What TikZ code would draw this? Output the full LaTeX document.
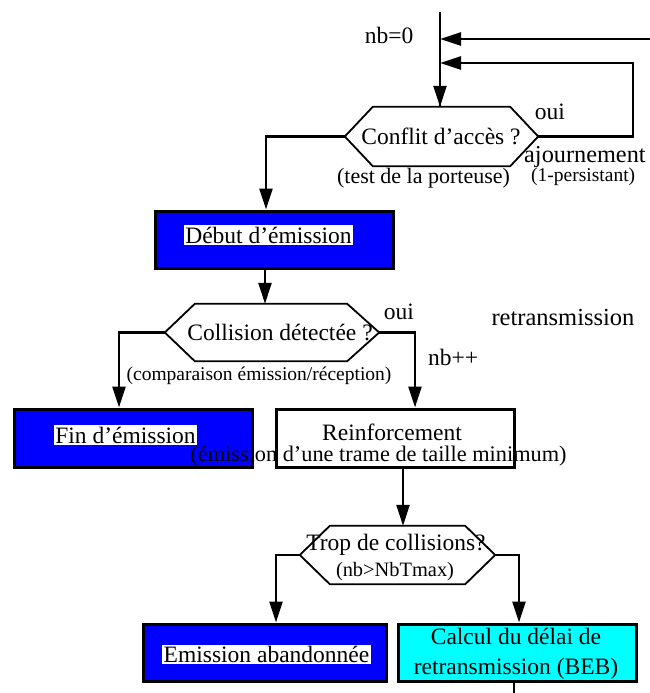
\documentclass[tikz,border=0pt]{standalone}
\usepackage{fontspec}
\setmainfont{Liberation Serif}
\usetikzlibrary{arrows.meta,calc}
\newcommand\mainsz{\fontsize{23.5}{30}\selectfont}
\newcommand\smallsz{\fontsize{19.5}{22}\selectfont}
\definecolor{fblue}{RGB}{0,0,255}
\definecolor{fcyan}{RGB}{0,255,255}
\tikzset{
  conn/.style={line width=2.5pt,-{Triangle[length=21pt,width=13pt]}},
  plainline/.style={line width=2.5pt},
  boxnode/.style={draw,line width=3pt,minimum width=238pt,minimum height=57pt,inner sep=0pt},
  hexframe/.style={draw=none,inner sep=0pt},
  hexline/.style={line width=1.8pt,line join=miter},
  lbl/.style={font=\mainsz,inner sep=0pt},
  smalllbl/.style={font=\smallsz,inner sep=0pt},
  whitebg/.style={fill=white,inner sep=1.5pt,font=\mainsz},
}
\begin{document}
\begin{tikzpicture}[x=1pt,y=-1pt]
\useasboundingbox (0,0) rectangle (650,693);

% hexagons (frames)
\node[hexframe,minimum width=193pt,minimum height=59pt] (h1) at (441.5,136.5) {};
\node[hexframe,minimum width=214pt,minimum height=57pt] (h2) at (272,332.5) {};
\node[hexframe,minimum width=195pt,minimum height=58pt] (h3) at (397.5,555) {};
\draw[hexline] (h1.west) -- ([xshift=28pt]h1.north west) -- ([xshift=-28pt]h1.north east) -- (h1.east) -- ([xshift=-28pt]h1.south east) -- ([xshift=28pt]h1.south west) -- cycle;
\draw[hexline] (h2.west) -- ([xshift=30pt]h2.north west) -- ([xshift=-32pt]h2.north east) -- (h2.east) -- ([xshift=-32pt]h2.south east) -- ([xshift=30pt]h2.south west) -- cycle;
\draw[hexline] (h3.west) -- ([xshift=30pt]h3.north west) -- ([xshift=-30pt]h3.north east) -- (h3.east) -- ([xshift=-30pt]h3.south east) -- ([xshift=30pt]h3.south west) -- cycle;

% boxes
\node[boxnode,fill=fblue] (debut) at (274,239.5) {};
\node[boxnode,fill=fblue,minimum height=58pt] (fin) at (133,438) {};
\node[boxnode,fill=white,minimum height=58pt] (reinf) at (395,438) {};
\node[boxnode,fill=fblue,minimum width=243pt] (aband) at (264.5,652.5) {};
\node[boxnode,fill=fcyan] (calc) at (517,652.5) {};

% free ends
\coordinate (topin) at (440,12);
\coordinate (r1) at (650,39);
\coordinate (j1) at (440,39);
\coordinate (j2) at (440,63);
\coordinate (c2) at (633,63);
\coordinate (bottomout) at (514,693);

% connectors
\draw[plainline] (topin) -- ([xshift=-1.5pt]h1.north);
\draw[conn] (j2) -- ([xshift=-1.5pt]h1.north);
\draw[conn] (r1) -- (j1);
\draw[conn] (h1.east) -| (c2) -- (j2);
\draw[conn] (h1.west) -| ([xshift=-8pt]debut.north);
\draw[conn] ([xshift=-9pt]debut.south) -- ([xshift=-7pt]h2.north);
\draw[conn] (h2.west) -| ([xshift=-14pt]fin.north);
\draw[conn] (h2.east) -| ([xshift=20pt]reinf.north);
\draw[conn] ([xshift=8pt]reinf.south) -- ([xshift=5.5pt]h3.north);
\draw[conn] (h3.west) -| ([xshift=11.5pt]aband.north);
\draw[conn] (h3.east) -| ([xshift=2pt]calc.north);
\draw[plainline] ([xshift=-3pt]calc.south) -- (bottomout);

% texts
\node[lbl] (tnb0) at (389,35) {nb=0};
\node[lbl] (th1) at (441,136) {Conflit d'accès ?};
\node[lbl] (toui1) at (550,112) {oui};
\node[lbl,font=\fontsize{24.3}{30}\selectfont,anchor=base west] (tajourn) at (524,162) {ajournement};
\node[smalllbl,anchor=west] (tpers) at (531,177) {(1-persistant)};
\node[smalllbl,font=\fontsize{22}{24}\selectfont] (ttest) at (423.5,178) {(test de la porteuse)};
\node[whitebg] (tdebut) at (268.5,235) {Début d'émission};
\node[lbl] (th2) at (280,332) {Collision détectée ?};
\node[lbl] (toui2) at (399,312) {oui};
\node[smalllbl] (tcomp) at (259,376) {(comparaison émission/réception)};
\node[lbl] (tnbpp) at (453,357) {nb++};
\node[lbl,font=\fontsize{24.5}{30}\selectfont] (tretr) at (563,318) {retransmission};
\node[whitebg] (tfin) at (125.5,435) {Fin d'émission};
\node[lbl] (treinf) at (392,432) {Reinforcement};
\node[smalllbl,font=\fontsize{22.3}{24}\selectfont] (treinf2) at (378.5,456) {(émission d'une trame de taille minimum)};
\node[lbl] (th3) at (396,545) {Trop de collisions?};
\node[smalllbl,font=\fontsize{20.4}{24}\selectfont] (tnbmax) at (395,572) {(nb>NbTmax)};
\node[whitebg] (taband) at (266.5,654.5) {Emission abandonnée};
\node[lbl,align=center] (tcalc) at (516,654) {Calcul du délai de\\retransmission (BEB)};
\end{tikzpicture}
\end{document}
